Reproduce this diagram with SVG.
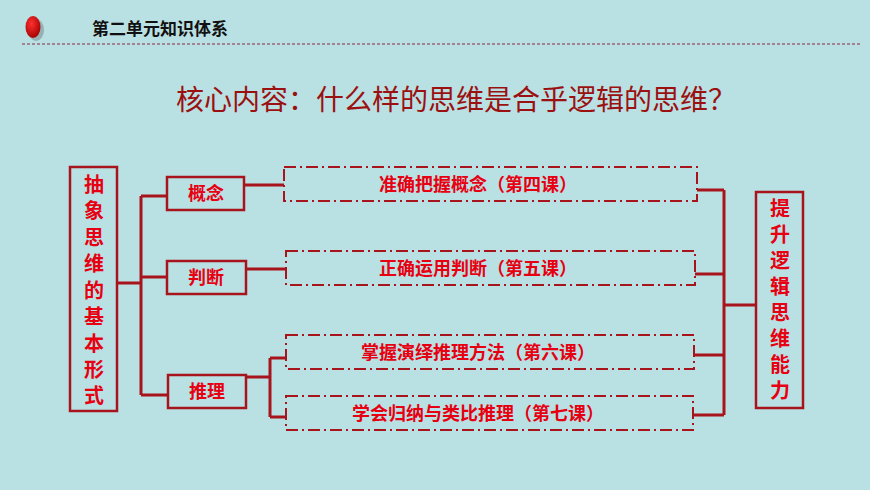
<svg xmlns="http://www.w3.org/2000/svg" width="870" height="490" viewBox="0 0 870 490">
<defs>
<radialGradient id="ball" cx="0.4" cy="0.35" r="0.7"><stop offset="0" stop-color="#ff3030"/><stop offset="1" stop-color="#a00000"/></radialGradient>
<style>
.ln{stroke:#a8141c;stroke-width:3;fill:none}
.box{fill:none;stroke:#a8141c;stroke-width:2.5}
.dash{fill:none;stroke:#a8141c;stroke-width:2;stroke-dasharray:12,4,2,4}
.t{font-family:"Noto Sans CJK SC",sans-serif;font-weight:bold;fill:#e60012;font-size:18px;text-anchor:middle}
.v{font-family:"Noto Sans CJK SC",sans-serif;font-weight:bold;fill:#e60012;font-size:20px;text-anchor:middle}
</style>
</defs>
<rect width="870" height="490" fill="#b9e0e3"/>
<ellipse cx="36" cy="30" rx="8" ry="11" fill="#444" opacity="0.3"/>
<ellipse cx="33" cy="27" rx="7.5" ry="11" fill="url(#ball)"/>
<text x="92" y="35" font-family="Noto Sans CJK SC,sans-serif" font-weight="bold" font-size="17" fill="#111">第二单元知识体系</text>
<line x1="22" y1="44" x2="862" y2="44" stroke="#8a2a4a" stroke-width="1.2" stroke-dasharray="3,2"/>
<text x="456" y="110" font-family="Noto Sans CJK SC,sans-serif" font-size="28" fill="#9b1010" text-anchor="middle">核心内容：什么样的思维是合乎逻辑的思维？</text>
<g id="connectors">
<path class="ln" d="M117 283H141M141 196V395M141 196H167M141 277H167M141 395H168"/>
<path class="ln" d="M244 185H284M246 269H286M246 377H270M270 358V417M270 358H286M270 417H286"/>
<path class="ln" d="M697 190H724M695 274H724M694 355H724M693 415H724M724 190V415M724 305H756"/>
</g>
<g id="left"><rect class="box" x="70" y="167" width="47" height="244"/>
<text class="v" x="94" y="192">抽</text><text class="v" x="94" y="218">象</text><text class="v" x="94" y="245">思</text><text class="v" x="94" y="271">维</text><text class="v" x="94" y="298">的</text><text class="v" x="94" y="324">基</text><text class="v" x="94" y="351">本</text><text class="v" x="94" y="377">形</text><text class="v" x="94" y="403">式</text></g>
<g id="gainian"><rect class="box" x="167" y="177" width="77" height="33"/><text class="t" x="206" y="200">概念</text></g>
<g id="panduan"><rect class="box" x="167" y="261" width="79" height="33"/><text class="t" x="206" y="284">判断</text></g>
<g id="tuili"><rect class="box" x="168" y="375" width="78" height="33"/><text class="t" x="207" y="398">推理</text></g>
<g id="b1"><rect class="dash" x="284" y="167" width="413" height="34"/><text class="t" x="478" y="191">准确把握概念（第四课）</text></g>
<g id="b2"><rect class="dash" x="286" y="251" width="409" height="34"/><text class="t" x="478" y="275">正确运用判断（第五课）</text></g>
<g id="b3"><rect class="dash" x="286" y="335" width="408" height="34"/><text class="t" x="478" y="359">掌握演绎推理方法（第六课）</text></g>
<g id="b4"><rect class="dash" x="286" y="396" width="407" height="34"/><text class="t" x="478" y="420">学会归纳与类比推理（第七课）</text></g>
<g id="right"><rect class="box" x="756" y="192" width="47" height="216"/>
<text class="v" x="780" y="216">提</text><text class="v" x="780" y="242">升</text><text class="v" x="780" y="268">逻</text><text class="v" x="780" y="294">辑</text><text class="v" x="780" y="320">思</text><text class="v" x="780" y="346">维</text><text class="v" x="780" y="372">能</text><text class="v" x="780" y="398">力</text></g>
</svg>
